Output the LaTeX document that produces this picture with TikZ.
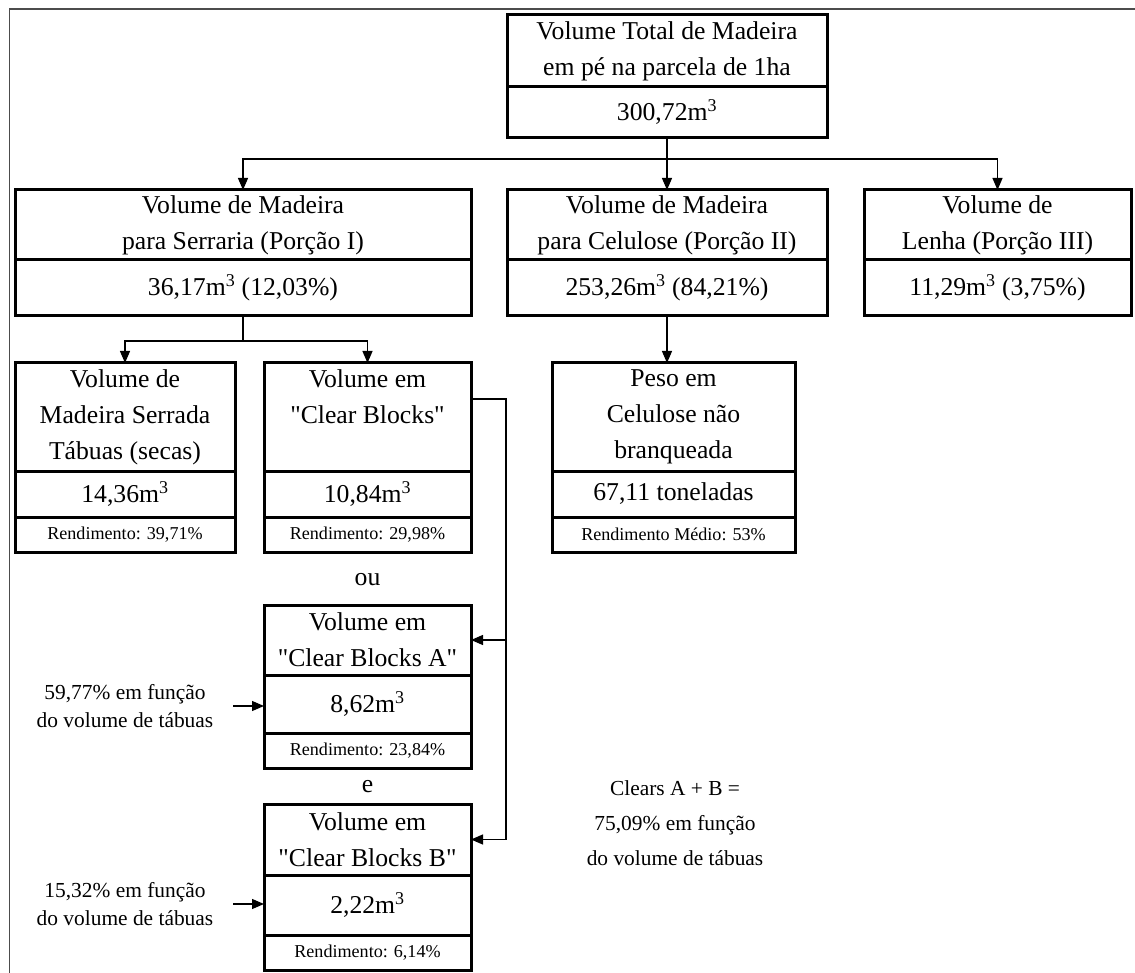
\documentclass[tikz,border=0pt]{standalone}
\usepackage{fontspec}
\setmainfont{Liberation Serif}[Ligatures=TeXOff]
\usetikzlibrary{arrows.meta,positioning}
\newcommand\boxsize{\fontsize{25.7}{36}\selectfont}
\newcommand\notesize{\fontsize{21.4}{28}\selectfont}
\newcommand\yieldsize{\fontsize{18.1}{22}\selectfont}
\newcommand\mcub{m\textsuperscript{3}}

\begin{document}
\begin{tikzpicture}[x=1pt, y=-1pt, node distance=0pt,
                    main node/.style={draw, line width=3pt, outer sep=0pt, inner sep=2pt,
                                      align=center, font=\boxsize},
                    yield node/.style={main node, font=\yieldsize, minimum height=35},
                    note node/.style={align=center, font=\notesize, inner xsep=20pt, inner ysep=0pt},
                    link/.style={line width=1.2pt},
                    arrow/.style={link, -{Triangle[length=12pt,width=10pt]}}]

  \useasboundingbox (0,0) rectangle (1135,973);
  \draw[black!70, line width=1.5pt] (1135,9) -| (9.5,973);

  \node[main node, anchor=north west, minimum width=320, minimum height=72] (total) at (507,15)
       {Volume Total de Madeira\\em pé na parcela de 1ha};
  \node[main node, minimum width=320, minimum height=51, below=of total] (totalv) {300,72\mcub};

  \node[main node, anchor=north west, minimum width=456, minimum height=70] (serraria) at (15,190)
       {Volume de Madeira\\para Serraria (Porção I)};
  \node[main node, minimum width=456, minimum height=56, below=of serraria] (serrariav)
       {36,17\mcub{} (12,03\%)};

  \node[main node, anchor=north west, minimum width=320, minimum height=70] (celulose) at (507,190)
       {Volume de Madeira\\para Celulose (Porção II)};
  \node[main node, minimum width=320, minimum height=56, below=of celulose] (celulosev)
       {253,26\mcub{} (84,21\%)};

  \node[main node, anchor=north west, minimum width=267, minimum height=70] (lenha) at (864,190)
       {Volume de\\Lenha (Porção III)};
  \node[main node, minimum width=267, minimum height=56, below=of lenha] (lenhav)
       {11,29\mcub{} (3,75\%)};

  \node[main node, anchor=north west, minimum width=220, minimum height=108] (serrada) at (15,363)
       {Volume de\\Madeira Serrada\\Tábuas (secas)};
  \node[main node, minimum width=220, minimum height=46, below=of serrada] (serradav) {14,36\mcub};
  \node[yield node, minimum width=220, below=of serradav] (serraday) {Rendimento: 39,71\%};

  \node[main node, anchor=north west, minimum width=207, minimum height=108] (clear) at (264,363)
       {Volume em\\"Clear Blocks"\\\vphantom{(}};
  \node[main node, minimum width=207, minimum height=46, below=of clear] (clearv) {10,84\mcub};
  \node[yield node, minimum width=207, below=of clearv] (cleary) {Rendimento: 29,98\%};

  \node[main node, anchor=north west, minimum width=243, minimum height=108] (peso) at (552,363)
       {Peso em\\Celulose não\\branqueada};
  \node[main node, minimum width=243, minimum height=46, below=of peso] (pesov) {67,11 toneladas};
  \node[yield node, minimum width=243, below=of pesov] (pesoy) {Rendimento Médio: 53\%};

  \node[main node, anchor=north west, minimum width=207, minimum height=70] (clearA) at (264,605)
       {Volume em\\"Clear Blocks A"};
  \node[main node, minimum width=207, minimum height=58, below=of clearA] (clearAv) {8,62\mcub};
  \node[yield node, minimum width=207, below=of clearAv] (clearAy) {Rendimento: 23,84\%};

  \node[main node, anchor=north west, minimum width=207, minimum height=71] (clearB) at (264,804)
       {Volume em\\"Clear Blocks B"};
  \node[main node, minimum width=207, minimum height=60, below=of clearB] (clearBv) {2,22\mcub};
  \node[yield node, minimum width=207, below=of clearBv] (clearBy) {Rendimento: 6,14\%};

  \node[note node, font=\boxsize] (ou) at (367.5,580) {ou};
  \node[note node, font=\boxsize] (e) at (367.5,787) {e};
  \node[note node] (noteA) at (125,706) {59,77\% em função\\do volume de tábuas};
  \node[note node] (noteB) at (125,904) {15,32\% em função\\do volume de tábuas};
  \node[note node, font=\fontsize{21.4}{35}\selectfont] (clears) at (675,823)
       {Clears A + B =\\75,09\% em função\\do volume de tábuas};

  \coordinate[below=21pt of totalv.south] (fork1);
  \coordinate[below=25pt of serrariav.south] (fork2);

  \path[arrow] (totalv) edge (celulose);
  \draw[arrow] (fork1) -| (serraria.north);
  \draw[arrow] (fork1) -| (lenha.north);
  \draw[link] (serrariav.south) -- (fork2);
  \draw[arrow] (fork2) -| (serrada.north);
  \draw[arrow] (fork2) -| (clear.north);
  \draw[arrow] (celulosev.south) -- (celulosev.south |- peso.north);
  \draw[arrow] ([yshift=18pt]clear.east) -| ([xshift=35pt]clearB.east) -- (clearB.east);
  \draw[arrow] ([xshift=35pt]clearA.east) -- (clearA.east);
  \draw[arrow] (noteA.east) -- (noteA.east -| clearAv.west);
  \draw[arrow] (noteB.east) -- (noteB.east -| clearBv.west);
\end{tikzpicture}
\end{document}
